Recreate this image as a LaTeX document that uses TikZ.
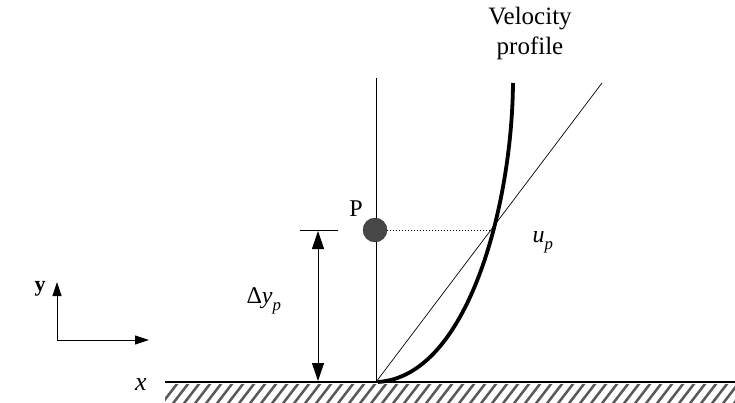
\documentclass[tikz,border=0pt]{standalone}
\usepackage{fontspec}
\setmainfont{Liberation Serif}
\usetikzlibrary{arrows.meta}
\begin{document}
\begin{tikzpicture}[x=1pt,y=-1pt,
  lbl/.style={inner sep=0pt,font=\fontsize{24}{27}\selectfont},
  bigtip/.style={-{Triangle[length=18pt,width=12pt]}},
  axtip/.style={-{Triangle[length=14pt,width=9pt]}}]
\useasboundingbox (0,0) rectangle (735,403);
% ground hatching
\begin{scope}
\clip (165,384) rectangle (735,403);
\foreach \i in {0,...,60} {
  \draw[gray!70!black,line width=2.5pt] (160+11*\i,406) -- (160+11*\i+20,380);
}
\end{scope}
\coordinate (g0) at (165,382);
\coordinate (g1) at (735,382);
\draw[line width=2pt] (g0) -- (g1);
% vertical line
\coordinate (wall) at (376,382);
\coordinate (walltop) at (376,78);
\draw[line width=0.8pt] (wall) -- (walltop);
% linear profile
\coordinate (lin) at (602,83);
\draw[line width=0.7pt] (wall) -- (lin);
% velocity profile
\coordinate (cstart) at (378,382);
\coordinate (cross) at (492,230);
\coordinate (ctop) at (513,83);
\draw[line width=3.8pt] (cstart) .. controls (468,376) and (512,205) .. (ctop);
% point P
\node[circle,fill=black!72,draw=black!80,minimum size=24pt,inner sep=0pt] (P) at (375,230) {};
\node[lbl] (Plbl) at (356,209) {P};
\draw[dotted,line width=1pt] (P.east) -- (cross);
\node[lbl] (up) at (543,242) {\itshape u\raisebox{-3pt}{\textsubscript{p}}};
% dimension
\coordinate (tickL) at (300,230);
\coordinate (tickR) at (338,230);
\draw[line width=1pt] (tickL) -- (tickR);
\coordinate (dmid) at (318,306);
\coordinate (dtop) at (318,231);
\coordinate (dbot) at (318,381);
\draw[line width=1pt,bigtip] (dmid) -- (dtop);
\draw[line width=1pt,bigtip] (dmid) -- (dbot);
\node[lbl] (dy) at (264,301) {Δ\textit{y}\raisebox{-3pt}{\textsubscript{\itshape p}}};
% axes
\coordinate (o) at (57,340);
\coordinate (yax) at (57,282);
\coordinate (xax) at (149,340);
\draw[line width=1pt,axtip] (o) -- (yax);
\draw[line width=1pt,axtip] (o) -- (xax);
\node[lbl,font=\fontsize{22}{24}\selectfont\bfseries] (ylbl) at (40,289) {y};
\node[lbl,font=\fontsize{26}{28}\selectfont\itshape] (xlbl) at (141,385) {x};
% title
\node[lbl,align=center,font=\fontsize{25}{30}\selectfont] (title) at (530,33) {Velocity\\profile};
\end{tikzpicture}
\end{document}
